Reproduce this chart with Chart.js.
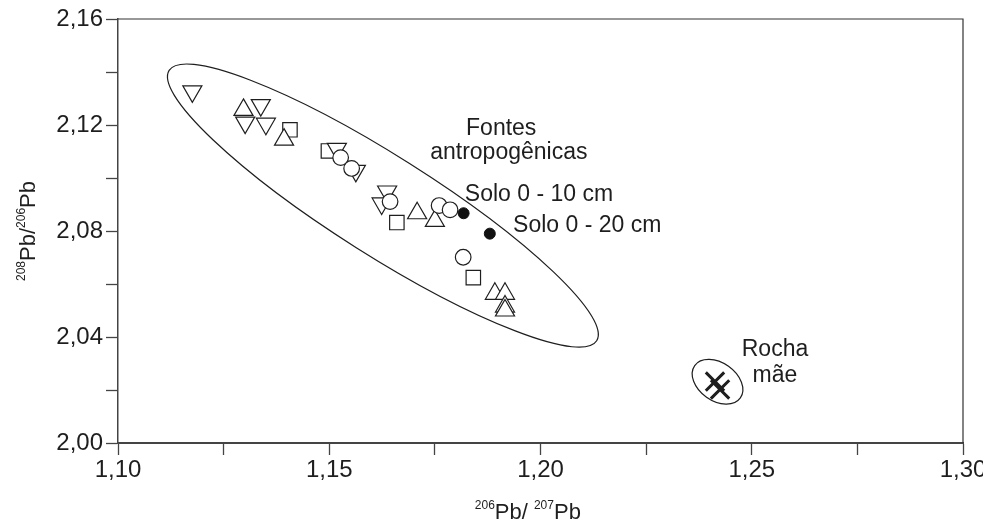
<!DOCTYPE html>
<html>
<head>
<meta charset="utf-8">
<script src="https://cdn.jsdelivr.net/npm/chart.js@4.4.1/dist/chart.umd.min.js"></script>
<style>
html, body { margin: 0; padding: 0; background: #fff; }
#wrap { width: 983px; height: 525px; }
</style>
</head>
<body>
<div id="wrap"><canvas id="mycanvas"></canvas></div>
<script>
// axis ticks
const xTickValues = [1.10, 1.125, 1.15, 1.175, 1.20, 1.225, 1.25, 1.275, 1.30];
const xTickLabels = ['1,10', '', '1,15', '', '1,20', '', '1,25', '', '1,30'];
const yTickValues = [2.00, 2.02, 2.04, 2.06, 2.08, 2.10, 2.12, 2.14, 2.16];
const yTickLabels = ['2,00', '', '2,04', '', '2,08', '', '2,12', '', '2,16'];

// series (206Pb/207Pb , 208Pb/206Pb)
const downTriX = [1.1176, 1.1338, 1.1301, 1.1350, 1.1518, 1.1563, 1.1637, 1.1624];
const downTriY = [2.1327, 2.1275, 2.1209, 2.1205, 2.1110, 2.1027, 2.0949, 2.0904];
const upTriX = [1.1297, 1.1393, 1.1708, 1.1750, 1.1892, 1.1916, 1.1916, 1.1916];
const upTriY = [2.1257, 2.1145, 2.0867, 2.0838, 2.0563, 2.0563, 2.0515, 2.0500];
const squareX = [1.1407, 1.1498, 1.1660, 1.1841];
const squareY = [2.1182, 2.1102, 2.0832, 2.0624];
const circleX = [1.1527, 1.1553, 1.1644, 1.1760, 1.1786, 1.1817];
const circleY = [2.1077, 2.1036, 2.0911, 2.0896, 2.0880, 2.0701];
const soloX = [1.1818, 1.1880];      // Solo 0 - 10 cm, Solo 0 - 20 cm
const soloY = [2.0867, 2.0790];
const rochaX = [1.2413, 1.2425];
const rochaY = [2.0232, 2.0202];

// ellipses: centre, one end of the long axis, short/long ratio
const fontesEllipse = { cx: 1.1627, cy: 2.0896, tx: 1.1121, ty: 2.1406, ratio: 0.197 };
const rochaEllipse = { cx: 1.2419, cy: 2.0231, tx: 1.2473, ty: 2.0170, ratio: 0.68 };

// text notes
const noteText = ['Fontes', 'antropogênicas', 'Solo 0 - 10 cm', 'Solo 0 - 20 cm', 'Rocha', 'mãe'];
const noteX = [1.1907, 1.1925, 1.1821, 1.1935, 1.2555, 1.2555];
const noteY = [2.1162, 2.1072, 2.0915, 2.0795, 2.0330, 2.0229];
const noteAlign = ['center', 'center', 'left', 'left', 'center', 'center'];

const FONT = "'Liberation Sans', Arial, Helvetica, sans-serif";
const INK = '#1e1e1e';

function pts(xs, ys) {
	return xs.map((x, i) => ({ x: x, y: ys[i] }));
}

function drawEllipse(ctx, sx, sy, e) {
	let cx = sx.getPixelForValue(e.cx), cy = sy.getPixelForValue(e.cy);
	let tx = sx.getPixelForValue(e.tx), ty = sy.getPixelForValue(e.ty);
	let a = Math.hypot(tx - cx, ty - cy);
	let ang = Math.atan2(ty - cy, tx - cx);
	ctx.beginPath();
	ctx.ellipse(cx, cy, a, a * e.ratio, ang, 0, Math.PI * 2);
	ctx.stroke();
}

// text with superscript parts, centred on x
function drawSup(ctx, parts, x, y, big, small, raise) {
	let w = 0;
	parts.forEach(p => {
		ctx.font = (p.sup ? small : big) + 'px ' + FONT;
		w += ctx.measureText(p.t).width;
	});
	let cur = x - w / 2;
	ctx.textAlign = 'left';
	ctx.textBaseline = 'alphabetic';
	parts.forEach(p => {
		ctx.font = (p.sup ? small : big) + 'px ' + FONT;
		ctx.fillText(p.t, cur, p.sup ? y - raise : y);
		cur += ctx.measureText(p.t).width;
	});
}

const extras = {
	id: 'extras',
	beforeDatasetsDraw(chart) {
		let ctx = chart.ctx, sx = chart.scales.x, sy = chart.scales.y;
		ctx.save();
		ctx.strokeStyle = INK;
		ctx.lineWidth = 1.2;
		drawEllipse(ctx, sx, sy, fontesEllipse);
		drawEllipse(ctx, sx, sy, rochaEllipse);
		ctx.restore();
	},
	afterDraw(chart) {
		let ctx = chart.ctx, sx = chart.scales.x, sy = chart.scales.y, a = chart.chartArea;
		ctx.save();
		// top and right frame
		ctx.strokeStyle = '#333';
		ctx.lineWidth = 1.2;
		ctx.beginPath();
		ctx.moveTo(a.left, a.top);
		ctx.lineTo(a.right, a.top);
		ctx.lineTo(a.right, a.bottom);
		ctx.stroke();
		// notes
		ctx.fillStyle = INK;
		ctx.font = '23px ' + FONT;
		ctx.textBaseline = 'alphabetic';
		noteText.forEach((t, i) => {
			ctx.textAlign = noteAlign[i];
			ctx.fillText(t, sx.getPixelForValue(noteX[i]), sy.getPixelForValue(noteY[i]));
		});
		// axis titles
		drawSup(ctx, [{ t: '206', sup: true }, { t: 'Pb/ ', sup: false }, { t: '207', sup: true }, { t: 'Pb', sup: false }],
			sx.getPixelForValue(1.197), 519, 22, 12, 10);
		ctx.translate(35, (a.top + a.bottom) / 2);
		ctx.rotate(-Math.PI / 2);
		drawSup(ctx, [{ t: '208', sup: true }, { t: 'Pb/', sup: false }, { t: '206', sup: true }, { t: 'Pb', sup: false }],
			0, 0, 22, 12, 10);
		ctx.restore();
	}
};

const openStyle = { backgroundColor: '#fff', borderColor: INK, borderWidth: 1.2 };

var ctx = document.getElementById('mycanvas').getContext('2d');
var myChart = new Chart(ctx, {
	type: 'scatter',
	data: {
		datasets: [
			{ label: 'Rocha mãe', data: pts(rochaX, rochaY), pointStyle: 'crossRot', pointRadius: 13, borderColor: INK, borderWidth: 3 },
			{ label: 'Solo', data: pts(soloX, soloY), pointStyle: 'circle', pointRadius: 5.5, backgroundColor: '#111', borderColor: '#111', borderWidth: 1 },
			Object.assign({ label: 'círculos', data: pts(circleX, circleY), pointStyle: 'circle', pointRadius: 7.8 }, openStyle),
			Object.assign({ label: 'triângulos inv.', data: pts(downTriX, downTriY), pointStyle: 'triangle', pointRotation: 180, pointRadius: 11 }, openStyle),
			Object.assign({ label: 'triângulos', data: pts(upTriX, upTriY), pointStyle: 'triangle', pointRadius: 11 }, openStyle),
			Object.assign({ label: 'quadrados', data: pts(squareX, squareY), pointStyle: 'rect', pointRadius: 10.2 }, openStyle)
		]
	},
	options: {
		responsive: true,
		maintainAspectRatio: false,
		animation: false,
		events: [],
		layout: { padding: { left: 0, right: 20, top: 19, bottom: 0 } },
		plugins: {
			legend: { display: false },
			tooltip: { enabled: false }
		},
		scales: {
			x: {
				type: 'linear',
				min: 1.10,
				max: 1.30,
				afterBuildTicks: s => { s.ticks = xTickValues.map(v => ({ value: v })); },
				afterFit: s => { s.height = 82; s.paddingLeft = 0; s.paddingRight = 0; },
				ticks: {
					callback: (v, i) => xTickLabels[i],
					autoSkip: false,
					maxRotation: 0,
					padding: 1,
					color: INK,
					font: { family: FONT, size: 24 }
				},
				grid: { drawOnChartArea: false, drawTicks: true, tickLength: 12, tickColor: '#444', tickWidth: 1.3 },
				border: { display: true, color: '#444', width: 2 }
			},
			y: {
				type: 'linear',
				min: 2.00,
				max: 2.16,
				afterBuildTicks: s => { s.ticks = yTickValues.map(v => ({ value: v })); },
				afterFit: s => { s.width = 118; s.paddingTop = 0; s.paddingBottom = 0; },
				ticks: {
					callback: (v, i) => yTickLabels[i],
					autoSkip: false,
					padding: 3,
					color: INK,
					font: { family: FONT, size: 24 }
				},
				grid: { drawOnChartArea: false, drawTicks: true, tickLength: 12, tickColor: '#444', tickWidth: 1.3 },
				border: { display: true, color: '#444', width: 1.5 }
			}
		}
	},
	plugins: [extras]
});
</script>
</body>
</html>
